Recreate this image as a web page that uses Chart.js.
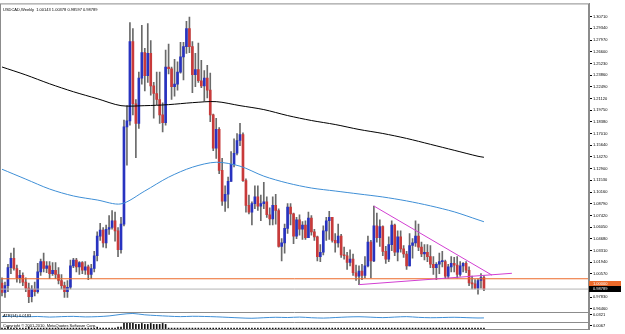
<!DOCTYPE html>
<html>
<head>
<meta charset="utf-8">
<script src="https://cdn.jsdelivr.net/npm/chart.js@4.4.1/dist/chart.umd.min.js"></script>
<style>
  html, body { margin: 0; padding: 0; background: #fff; }
</style>
</head>
<body>
<canvas id="chart" width="625" height="334"></canvas>
<script>
'use strict'

// weekly bars, one every 7 days from 23 Dec 2007; a date label every 8 bars
const dateLabels = ['23 Dec 2007', '17 Feb 2008', '13 Apr 2008', '8 Jun 2008', '3 Aug 2008',
  '28 Sep 2008', '23 Nov 2008', '18 Jan 2009', '15 Mar 2009', '10 May 2009', '5 Jul 2009',
  '30 Aug 2009', '25 Oct 2009', '20 Dec 2009', '14 Feb 2010', '11 Apr 2010', '6 Jun 2010',
  '1 Aug 2010', '26 Sep 2010', '21 Nov 2010', '16 Jan 2011']

const yTicks = [1.30710, 1.29340, 1.27970, 1.26600, 1.25230, 1.23860, 1.22490, 1.21120,
  1.19750, 1.18380, 1.17010, 1.15640, 1.14270, 1.12900, 1.11530, 1.10160, 1.08790,
  1.07420, 1.06050, 1.04680, 1.03310, 1.01940, 1.00570, 0.99200, 0.97830, 0.96460]

const open = [
  0.9950, 0.9840, 0.9920, 1.0130, 1.0240, 1.0120, 1.0010, 1.0040, 0.9960, 0.9890,
  0.9790, 0.9880, 0.9850, 1.0080, 1.0200, 1.0120, 1.0150, 1.0060, 1.0100, 1.0050,
  0.9980, 0.9920, 0.9850, 0.9900, 1.0150, 1.0220, 1.0140, 1.0190, 1.0100, 1.0140,
  1.0050, 1.0120, 1.0270, 1.0500, 1.0570, 1.0420, 1.0580, 1.0600, 1.0680, 1.0560,
  1.0340, 1.0640, 1.1780, 1.1850, 1.2780, 1.2050, 1.1820, 1.2350, 1.2650, 1.2380,
  1.2640, 1.2260, 1.2170, 1.2100, 1.1920, 1.1830, 1.2480, 1.2460, 1.2250, 1.2280,
  1.2420, 1.2600, 1.2720, 1.2930, 1.2720, 1.2390, 1.2450, 1.2320, 1.2260, 1.2350,
  1.2210, 1.1920, 1.1530, 1.1750, 1.1270, 1.0910, 1.0990, 1.1140, 1.1340, 1.1470,
  1.1620, 1.1690, 1.1150, 1.0860, 1.0780, 1.0880, 1.0960, 1.0850, 1.0880, 1.0900,
  1.0750, 1.0700, 1.0860, 1.0800, 1.0380, 1.0420, 1.0590, 1.0840, 1.0760, 1.0500,
  1.0690, 1.0580, 1.0630, 1.0480, 1.0710, 1.0550, 1.0490, 1.0260, 1.0310, 1.0560,
  1.0680, 1.0720, 1.0450, 1.0420, 1.0500, 1.0280, 1.0270, 1.0190, 1.0230, 1.0070,
  1.0030, 1.0090, 1.0040, 1.0150, 1.0430, 1.0210, 1.0620, 1.0480, 1.0610, 1.0320,
  1.0230, 1.0400, 1.0630, 1.0310, 1.0490, 1.0350, 1.0290, 1.0150, 1.0390, 1.0420,
  1.0500, 1.0370, 1.0290, 1.0310, 1.0260, 1.0170, 1.0130, 1.0170, 1.0200, 1.0200,
  1.0030, 1.0140, 1.0180, 1.0160, 1.0050, 1.0150, 1.0180, 1.0100, 0.9950, 0.9940,
  0.9890, 0.9980, 1.00143
]
const high = [
  1.0010, 0.9960, 1.0170, 1.0300, 1.0360, 1.0160, 1.0100, 1.0070, 1.0010, 0.9950,
  0.9920, 0.9960, 1.0180, 1.0230, 1.0300, 1.0200, 1.0200, 1.0190, 1.0190, 1.0130,
  1.0050, 0.9960, 0.9980, 1.0220, 1.0240, 1.0240, 1.0200, 1.0200, 1.0200, 1.0160,
  1.0170, 1.0320, 1.0550, 1.0650, 1.0600, 1.0630, 1.0740, 1.0800, 1.0780, 1.0600,
  1.0720, 1.1860, 1.2030, 1.3000, 1.2930, 1.2100, 1.2420, 1.2970, 1.2700, 1.2990,
  1.2790, 1.2300, 1.2420, 1.2420, 1.2060, 1.2680, 1.2750, 1.2480, 1.2570, 1.2540,
  1.2770, 1.2770, 1.3017, 1.3066, 1.2780, 1.2640, 1.2760, 1.2560, 1.2440, 1.2500,
  1.2410, 1.1930, 1.1880, 1.1770, 1.1410, 1.1090, 1.1190, 1.1490, 1.1640, 1.1700,
  1.1820, 1.1710, 1.1170, 1.0980, 1.0900, 1.1090, 1.1090, 1.0980, 1.1130, 1.0960,
  1.0830, 1.0960, 1.0990, 1.0820, 1.0470, 1.0640, 1.0880, 1.0880, 1.0770, 1.0720,
  1.0750, 1.0670, 1.0680, 1.0780, 1.0740, 1.0580, 1.0500, 1.0400, 1.0620, 1.0720,
  1.0790, 1.0720, 1.0530, 1.0640, 1.0520, 1.0370, 1.0310, 1.0340, 1.0290, 1.0160,
  1.0150, 1.0170, 1.0260, 1.0500, 1.0450, 1.0852, 1.0770, 1.0690, 1.0620, 1.0380,
  1.0490, 1.0680, 1.0640, 1.0560, 1.0560, 1.0390, 1.0320, 1.0530, 1.0470, 1.0680,
  1.0640, 1.0430, 1.0400, 1.0400, 1.0390, 1.0260, 1.0190, 1.0300, 1.0320, 1.0220,
  1.0170, 1.0260, 1.0250, 1.0260, 1.0200, 1.0190, 1.0200, 1.0140, 1.0030, 0.9990,
  1.0000, 1.0060, 1.00378
]
const low = [
  0.9800, 0.9780, 0.9850, 1.0060, 1.0100, 0.9960, 0.9950, 0.9920, 0.9850, 0.9720,
  0.9730, 0.9800, 0.9830, 1.0040, 1.0080, 1.0070, 1.0000, 1.0040, 1.0000, 0.9940,
  0.9880, 0.9780, 0.9780, 0.9880, 1.0130, 1.0080, 1.0050, 1.0060, 1.0050, 0.9990,
  1.0000, 1.0080, 1.0210, 1.0450, 1.0370, 1.0360, 1.0520, 1.0580, 1.0440, 1.0260,
  1.0300, 1.0620, 1.1330, 1.1800, 1.1920, 1.1420, 1.1760, 1.2280, 1.2200, 1.2300,
  1.2150, 1.1880, 1.2040, 1.1820, 1.1720, 1.1800, 1.2400, 1.2100, 1.2140, 1.2210,
  1.2410, 1.2330, 1.2640, 1.2650, 1.2180, 1.2250, 1.2300, 1.2240, 1.2080, 1.2120,
  1.1840, 1.1500, 1.1410, 1.1230, 1.0860, 1.0790, 1.0830, 1.1140, 1.1310, 1.1450,
  1.1560, 1.1140, 1.0780, 1.0760, 1.0630, 1.0820, 1.0800, 1.0680, 1.0820, 1.0720,
  1.0630, 1.0630, 1.0640, 1.0370, 1.0210, 1.0300, 1.0530, 1.0630, 1.0410, 1.0470,
  1.0510, 1.0460, 1.0460, 1.0480, 1.0510, 1.0450, 1.0210, 1.0200, 1.0280, 1.0450,
  1.0460, 1.0430, 1.0310, 1.0370, 1.0250, 1.0230, 1.0110, 1.0150, 1.0040, 0.9980,
  0.9931, 0.9990, 1.0010, 1.0140, 1.0010, 1.0200, 1.0430, 1.0380, 1.0270, 1.0180,
  1.0200, 1.0330, 1.0270, 1.0210, 1.0310, 1.0250, 1.0110, 1.0150, 1.0240, 1.0380,
  1.0330, 1.0260, 1.0220, 1.0200, 1.0130, 1.0050, 0.9990, 1.0060, 1.0140, 1.0000,
  1.0000, 1.0080, 1.0080, 1.0010, 1.0030, 1.0080, 1.0070, 0.9920, 0.9880, 0.9880,
  0.9820, 0.9890, 0.98597
]
const close = [
  0.9840, 0.9920, 1.0130, 1.0240, 1.0120, 1.0010, 1.0040, 0.9960, 0.9890, 0.9790,
  0.9880, 0.9850, 1.0080, 1.0200, 1.0120, 1.0150, 1.0060, 1.0100, 1.0050, 0.9980,
  0.9920, 0.9850, 0.9900, 1.0150, 1.0220, 1.0140, 1.0190, 1.0100, 1.0140, 1.0050,
  1.0120, 1.0270, 1.0500, 1.0570, 1.0420, 1.0580, 1.0600, 1.0680, 1.0560, 1.0340,
  1.0640, 1.1780, 1.1850, 1.2780, 1.2050, 1.1820, 1.2350, 1.2650, 1.2380, 1.2640,
  1.2260, 1.2170, 1.2100, 1.1920, 1.1830, 1.2480, 1.2460, 1.2250, 1.2280, 1.2420,
  1.2600, 1.2720, 1.2930, 1.2720, 1.2390, 1.2450, 1.2320, 1.2260, 1.2350, 1.2210,
  1.1920, 1.1530, 1.1750, 1.1270, 1.0910, 1.0990, 1.1140, 1.1340, 1.1470, 1.1620,
  1.1690, 1.1150, 1.0860, 1.0780, 1.0880, 1.0960, 1.0850, 1.0880, 1.0900, 1.0750,
  1.0700, 1.0860, 1.0800, 1.0380, 1.0420, 1.0590, 1.0840, 1.0760, 1.0500, 1.0690,
  1.0580, 1.0630, 1.0480, 1.0710, 1.0550, 1.0490, 1.0260, 1.0310, 1.0560, 1.0680,
  1.0720, 1.0450, 1.0420, 1.0500, 1.0280, 1.0270, 1.0190, 1.0230, 1.0070, 1.0030,
  1.0090, 1.0040, 1.0150, 1.0430, 1.0210, 1.0620, 1.0480, 1.0610, 1.0320, 1.0230,
  1.0400, 1.0630, 1.0310, 1.0490, 1.0350, 1.0290, 1.0150, 1.0390, 1.0420, 1.0500,
  1.0370, 1.0290, 1.0310, 1.0260, 1.0170, 1.0130, 1.0170, 1.0200, 1.0200, 1.0030,
  1.0140, 1.0180, 1.0160, 1.0050, 1.0150, 1.0180, 1.0100, 0.9950, 0.9940, 0.9890,
  0.9980, 1.00143, 0.98789
]

// moving averages, read every 8 bars
const maBars = [0, 8, 16, 24, 32, 40, 48, 56, 64, 72, 80, 88, 96, 104, 112, 120, 128, 136, 144, 152, 160, 162]
const maSlow = [1.2481, 1.2388, 1.2284, 1.2191, 1.2110, 1.2028, 1.2028, 1.2040, 1.2063, 1.2075, 1.2028,
  1.1982, 1.1912, 1.1854, 1.1807, 1.1749, 1.1702, 1.1644, 1.1575, 1.1505, 1.1435, 1.1423]
const maFast = [1.1283, 1.1167, 1.1051, 1.0970, 1.0923, 1.0877, 1.1028, 1.1190, 1.1307, 1.1365, 1.1319,
  1.1202, 1.1121, 1.1063, 1.1028, 1.0993, 1.0958, 1.0912, 1.0854, 1.0784, 1.0691, 1.0668]

// trend lines: [bar, price]
const upperTrend = [[125, 1.0852], [164.7, 1.0042]]
const lowerTrend = [[120, 0.9931], [171.4, 1.0064]]
const levelPrice = 1.0000
const bidPrice = 0.98789

// first indicator window, read every 4 bars
const atrBars = [0, 4, 8, 12, 16, 20, 24, 28, 32, 36, 40, 44, 48, 52, 56, 60, 64, 68, 72, 76, 80,
  84, 88, 92, 96, 100, 104, 108, 112, 116, 120, 124, 128, 132, 136, 140, 144, 148, 152, 156, 160, 162]
const atrValues = [6, 6.5, 5.8, 6.2, 5.5, 6, 6.3, 5.7, 6, 6.8, 8.5, 9.5, 8, 7.2, 6.5, 6, 6.4, 6.2, 5.8,
  5.2, 4.6, 4.2, 4.8, 5.3, 5, 5.5, 4.8, 4.4, 5, 5.6, 5.9, 5.4, 4.9, 5.5, 6, 5.2, 4.8, 5, 5.3, 4.9, 4.5, 4.6]

// second indicator window, one value per bar
const histValues = [
  1, 1, 2, 1, 1, 1, 1, 1, 1, 2, 1, 1, 1, 1, 1, 1, 1, 1, 1, 1,
  1, 1, 1, 1, 1, 1, 1, 1, 1, 1, 1, 1, 2, 1, 1, 1, 1, 1, 1, 2,
  2, 6, 6, 7, 6, 5, 5, 6, 5, 5, 6, 5, 5, 5, 6, 5, 1, 1, 1, 1,
  1, 1, 1, 1, 1, 1, 1, 1, 1, 1, 1, 1, 1, 1, 1, 1, 1, 1, 1, 1,
  1, 1, 1, 1, 1, 1, 1, 1, 1, 1, 1, 1, 1, 1, 1, 1, 1, 1, 1, 1,
  1, 1, 1, 1, 1, 1, 1, 1, 1, 1, 1, 1, 1, 1, 1, 1, 1, 1, 1, 1,
  1, 1, 1, 1, 1, 1, 1, 1, 1, 1, 1, 1, 1, 1, 1, 1, 1, 1, 1, 1,
  1, 1, 1, 1, 1, 1, 1, 1, 1, 1, 1, 1, 1, 1, 1, 1, 1, 1, 1, 1,
  1, 1, 1
]

const header = 'USDCAD,Weekly  1.00143 1.00378 0.98597 0.98789'
const atrLabel = 'ATR(14) 0.0183'
const histLabel = 'Copyright \u00a9 2001-2010, MetaQuotes Software Corp.'

const BULL = '#2833c0'
const BEAR = '#c83a3a'
const WICK = '#6a6a6a'
const FONT = { family: 'Liberation Sans', size: 4 }

const pts = (xs, ys) => xs.map((x, i) => ({ x, y: ys[i] }))
const pairs = arr => arr.map(([x, y]) => ({ x, y }))

const decor = {
  id: 'decor',
  afterDraw(chart) {
    const { ctx, chartArea: a, scales } = chart

    ctx.save()
    ctx.strokeStyle = '#8c8c8c'
    ctx.lineWidth = 1
    ;[scales.y2.top, scales.y3.top].forEach(t => {
      ctx.beginPath()
      ctx.moveTo(a.left, Math.round(t) + 0.5)
      ctx.lineTo(a.right, Math.round(t) + 0.5)
      ctx.stroke()
    })
    ctx.strokeRect(a.left + 0.5, a.top + 0.5, a.right - a.left - 1, a.bottom - a.top)

    ctx.font = '4px "Liberation Sans"'
    ctx.textBaseline = 'middle'
    ctx.fillStyle = '#000'
    ctx.fillText(header, a.left + 3, a.top + 6)
    ctx.fillText(atrLabel, a.left + 3, scales.y2.top + 4)
    ctx.fillText(histLabel, a.left + 3, scales.y3.top + 3.5)

    // price tags on the right axis
    const tag = (price, fill, dy) => {
      const y = scales.y.getPixelForValue(price) + dy
      ctx.fillStyle = fill
      ctx.fillRect(a.right, Math.round(y - 3), 32, 6)
      ctx.fillStyle = '#fff'
      ctx.fillText(price.toFixed(5), a.right + 4, y)
    }
    tag(levelPrice, '#ec6a2a', 5)
    tag(bidPrice, '#000', 0)
    ctx.restore()
  }
}

new Chart(document.getElementById('chart'), {
  type: 'bar',
  data: {
    datasets: [
      {
        type: 'line', data: pts(maBars, maSlow), borderColor: '#000', borderWidth: 1,
        pointRadius: 0, tension: 0.3, order: 0
      },
      {
        type: 'line', data: pts(maBars, maFast), borderColor: '#3f8fd6', borderWidth: 1,
        pointRadius: 0, tension: 0.3, order: 0
      },
      {
        type: 'line', data: pairs(upperTrend), borderColor: '#d23fd2', borderWidth: 1,
        pointRadius: 0, order: 0
      },
      {
        type: 'line', data: pairs(lowerTrend), borderColor: '#d23fd2', borderWidth: 1,
        pointRadius: 0, order: 0
      },
      {
        type: 'line', data: [{ x: -5, y: levelPrice }, { x: 205, y: levelPrice }],
        borderColor: '#ec6a2a', borderWidth: 1, pointRadius: 0, order: 0
      },
      {
        type: 'line', data: [{ x: -5, y: bidPrice }, { x: 205, y: bidPrice }],
        borderColor: '#b4b4b4', borderWidth: 1, pointRadius: 0, order: 0
      },
      {
        data: open.map((o, i) => ({ x: i, y: [o, close[i]] })),
        backgroundColor: open.map((o, i) => close[i] >= o ? BULL : BEAR),
        barThickness: 2, minBarLength: 1, grouped: false, order: 1
      },
      {
        data: low.map((l, i) => ({ x: i, y: [l, high[i]] })),
        backgroundColor: WICK, barThickness: 1, grouped: false, order: 2
      },
      {
        type: 'line', yAxisID: 'y2', data: pts(atrBars, atrValues), borderColor: '#3f8fd6',
        borderWidth: 1, pointRadius: 0, tension: 0.3, order: 0
      },
      {
        yAxisID: 'y3', data: histValues.map((v, i) => ({ x: i, y: v })),
        backgroundColor: '#111', barThickness: 1, grouped: false, order: 1
      }
    ]
  },
  options: {
    responsive: false,
    animation: false,
    layout: { padding: { top: 1, left: 0, right: 0, bottom: 0 } },
    plugins: { legend: { display: false }, tooltip: { enabled: false } },
    scales: {
      x: {
        type: 'linear', min: -0.672, max: 197.31, offset: false,
        grid: { display: false },
        border: { display: false },
        afterBuildTicks: s => { s.ticks = dateLabels.map((_, k) => ({ value: k * 8 })) },
        afterFit: s => { s.height = 5 },
        ticks: {
          autoSkip: false, maxRotation: 0, align: 'start', padding: 0,
          font: FONT, color: '#000',
          callback: (v, i) => dateLabels[i]
        }
      },
      y: {
        type: 'linear', position: 'right', stack: 'panes', stackWeight: 311,
        min: 0.9609, max: 1.3226,
        grid: { drawOnChartArea: false, tickLength: 3, color: '#000' },
        border: { color: '#8c8c8c' },
        afterBuildTicks: s => { s.ticks = yTicks.map(v => ({ value: v })) },
        afterFit: s => { s.width = 36 },
        ticks: {
          autoSkip: false, font: FONT, color: '#000', padding: 1,
          callback: v => v.toFixed(5)
        }
      },
      y2: {
        type: 'linear', position: 'right', stack: 'panes', stackWeight: 10,
        min: 0, max: 11,
        grid: { drawOnChartArea: false, tickLength: 3, color: '#000' },
        border: { color: '#8c8c8c' },
        afterBuildTicks: s => { s.ticks = [{ value: 8 }] },
        afterFit: s => { s.width = 36 },
        ticks: { autoSkip: false, font: FONT, color: '#000', padding: 1, callback: () => '0.0321' }
      },
      y3: {
        type: 'linear', position: 'right', stack: 'panes', stackWeight: 7,
        min: 0, max: 7.5,
        grid: { drawOnChartArea: false, tickLength: 3, color: '#000' },
        border: { color: '#8c8c8c' },
        afterBuildTicks: s => { s.ticks = [{ value: 3.5 }] },
        afterFit: s => { s.width = 36 },
        ticks: { autoSkip: false, font: FONT, color: '#000', padding: 1, callback: () => '0.0067' }
      }
    }
  },
  plugins: [decor]
})
</script>
</body>
</html>
